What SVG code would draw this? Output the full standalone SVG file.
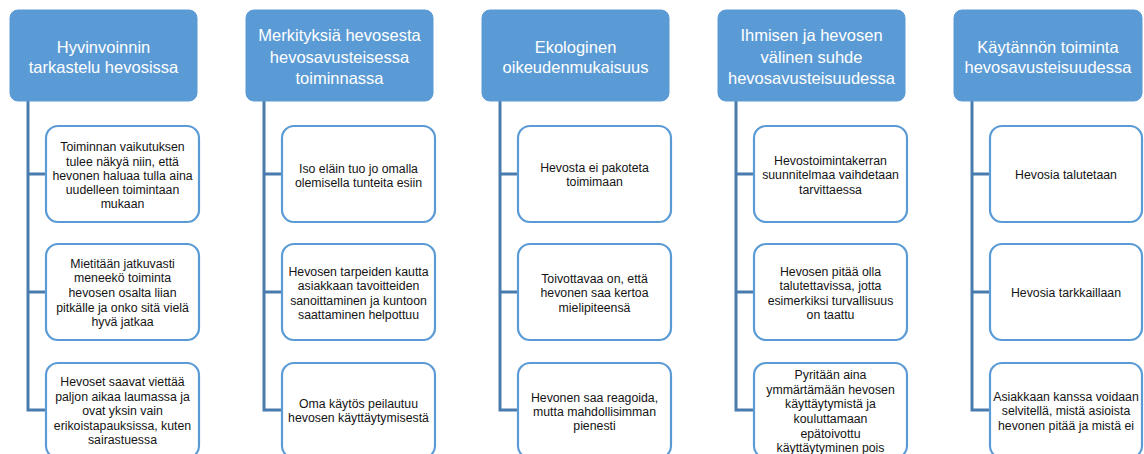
<svg xmlns="http://www.w3.org/2000/svg" width="1144" height="454" viewBox="0 0 1144 454">
<style>
.hdr{fill:#5B9BD5;stroke:#5B9BD5;stroke-width:1}
.chd{fill:#ffffff;stroke:#5B9BD5;stroke-width:2.2}
.ht{font-family:"Liberation Sans",Arial,sans-serif;font-size:16.5px;fill:#ffffff;text-anchor:middle}
.ct{font-family:"Liberation Sans",Arial,sans-serif;font-size:12.3px;fill:#141414;text-anchor:middle}
.con{fill:none;stroke:#4A7BAE;stroke-width:3}
</style>
<rect width="1144" height="454" fill="#ffffff"/>
<g id="connectors">
<path class="con" d="M28,101 V411.5 M28,174 H46 M28,292 H46 M28,410 H46"/>
<path class="con" d="M264,101 V411.5 M264,174 H282 M264,292 H282 M264,410 H282"/>
<path class="con" d="M500,101 V411.5 M500,174 H518 M500,292 H518 M500,410 H518"/>
<path class="con" d="M736,101 V411.5 M736,174 H754 M736,292 H754 M736,410 H754"/>
<path class="con" d="M972,101 V411.5 M972,174 H990 M972,292 H990 M972,410 H990"/>
</g>
<g id="h1">
<rect class="hdr" x="10" y="10" width="187" height="91" rx="8"/>
<text class="ht" x="103.5" y="52.5">Hyvinvoinnin</text>
<text class="ht" x="103.5" y="73">tarkastelu hevosissa</text>
</g>
<g id="h2">
<rect class="hdr" x="246" y="10" width="187" height="91" rx="8"/>
<text class="ht" x="339.5" y="41">Merkityksiä hevosesta</text>
<text class="ht" x="339.5" y="62.5">hevosavusteisessa</text>
<text class="ht" x="339.5" y="84">toiminnassa</text>
</g>
<g id="h3">
<rect class="hdr" x="482" y="10" width="187" height="91" rx="8"/>
<text class="ht" x="575.5" y="52.5">Ekologinen</text>
<text class="ht" x="575.5" y="73">oikeudenmukaisuus</text>
</g>
<g id="h4">
<rect class="hdr" x="718" y="10" width="187" height="91" rx="8"/>
<text class="ht" x="811.5" y="41">Ihmisen ja hevosen</text>
<text class="ht" x="811.5" y="62.5">välinen suhde</text>
<text class="ht" x="811.5" y="84">hevosavusteisuudessa</text>
</g>
<g id="h5">
<rect class="hdr" x="954" y="10" width="188" height="91" rx="8"/>
<text class="ht" x="1048" y="52.5">Käytännön toiminta</text>
<text class="ht" x="1048" y="73">hevosavusteisuudessa</text>
</g>
<g id="c1a">
<rect class="chd" x="46" y="126" width="153" height="96" rx="12"/>
<text class="ct" x="122.5" y="151.4">Toiminnan vaikutuksen</text>
<text class="ct" x="122.5" y="165.6">tulee näkyä niin, että</text>
<text class="ct" x="122.5" y="179.8">hevonen haluaa tulla aina</text>
<text class="ct" x="122.5" y="194">uudelleen toimintaan</text>
<text class="ct" x="122.5" y="208.2">mukaan</text>
</g>
<g id="c1b">
<rect class="chd" x="46" y="244" width="153" height="96" rx="12"/>
<text class="ct" x="122.5" y="267.5">Mietitään jatkuvasti</text>
<text class="ct" x="122.5" y="282.2">meneekö toiminta</text>
<text class="ct" x="122.5" y="296.9">hevosen osalta liian</text>
<text class="ct" x="122.5" y="311.6">pitkälle ja onko sitä vielä</text>
<text class="ct" x="122.5" y="326.3">hyvä jatkaa</text>
</g>
<g id="c1c">
<rect class="chd" x="46" y="363" width="153" height="95" rx="12"/>
<text class="ct" x="122.5" y="386.4">Hevoset saavat viettää</text>
<text class="ct" x="122.5" y="400.8">paljon aikaa laumassa ja</text>
<text class="ct" x="122.5" y="415.2">ovat yksin vain</text>
<text class="ct" x="122.5" y="429.6">erikoistapauksissa, kuten</text>
<text class="ct" x="122.5" y="444">sairastuessa</text>
</g>
<g id="c2a">
<rect class="chd" x="282" y="126" width="153" height="96" rx="12"/>
<text class="ct" x="358.5" y="172.5">Iso eläin tuo jo omalla</text>
<text class="ct" x="358.5" y="186.9">olemisella tunteita esiin</text>
</g>
<g id="c2b">
<rect class="chd" x="282" y="244" width="153" height="96" rx="12"/>
<text class="ct" x="358.5" y="276">Hevosen tarpeiden kautta</text>
<text class="ct" x="358.5" y="290.4">asiakkaan tavoitteiden</text>
<text class="ct" x="358.5" y="304.8">sanoittaminen ja kuntoon</text>
<text class="ct" x="358.5" y="319.2">saattaminen helpottuu</text>
</g>
<g id="c2c">
<rect class="chd" x="282" y="363" width="153" height="95" rx="12"/>
<text class="ct" x="358.5" y="408">Oma käytös peilautuu</text>
<text class="ct" x="358.5" y="422.4">hevosen käyttäytymisestä</text>
</g>
<g id="c3a">
<rect class="chd" x="518" y="126" width="153" height="96" rx="12"/>
<text class="ct" x="594.5" y="172">Hevosta ei pakoteta</text>
<text class="ct" x="594.5" y="186.4">toimimaan</text>
</g>
<g id="c3b">
<rect class="chd" x="518" y="244" width="153" height="96" rx="12"/>
<text class="ct" x="594.5" y="282.8">Toivottavaa on, että</text>
<text class="ct" x="594.5" y="297.2">hevonen saa kertoa</text>
<text class="ct" x="594.5" y="311.6">mielipiteensä</text>
</g>
<g id="c3c">
<rect class="chd" x="518" y="363" width="153" height="95" rx="12"/>
<text class="ct" x="594.5" y="401.5">Hevonen saa reagoida,</text>
<text class="ct" x="594.5" y="415.9">mutta mahdollisimman</text>
<text class="ct" x="594.5" y="430.3">pienesti</text>
</g>
<g id="c4a">
<rect class="chd" x="754" y="126" width="153" height="96" rx="12"/>
<text class="ct" x="830.5" y="164.8">Hevostoimintakerran</text>
<text class="ct" x="830.5" y="179.2">suunnitelmaa vaihdetaan</text>
<text class="ct" x="830.5" y="193.6">tarvittaessa</text>
</g>
<g id="c4b">
<rect class="chd" x="754" y="244" width="153" height="96" rx="12"/>
<text class="ct" x="830.5" y="276">Hevosen pitää olla</text>
<text class="ct" x="830.5" y="290.4">talutettavissa, jotta</text>
<text class="ct" x="830.5" y="304.8">esimerkiksi turvallisuus</text>
<text class="ct" x="830.5" y="319.2">on taattu</text>
</g>
<g id="c4c">
<rect class="chd" x="754" y="363" width="153" height="95" rx="12"/>
<text class="ct" x="830.5" y="379.2">Pyritään aina</text>
<text class="ct" x="830.5" y="393.8">ymmärtämään hevosen</text>
<text class="ct" x="830.5" y="408.4">käyttäytymistä ja</text>
<text class="ct" x="830.5" y="423">kouluttamaan</text>
<text class="ct" x="830.5" y="437.6">epätoivottu</text>
<text class="ct" x="830.5" y="452.2">käyttäytyminen pois</text>
</g>
<g id="c5a">
<rect class="chd" x="990" y="126" width="152" height="96" rx="12"/>
<text class="ct" x="1066" y="179">Hevosia talutetaan</text>
</g>
<g id="c5b">
<rect class="chd" x="990" y="244" width="152" height="96" rx="12"/>
<text class="ct" x="1066" y="297">Hevosia tarkkaillaan</text>
</g>
<g id="c5c">
<rect class="chd" x="990" y="363" width="152" height="95" rx="12"/>
<text class="ct" x="1066" y="400.5">Asiakkaan kanssa voidaan</text>
<text class="ct" x="1066" y="415.2">selvitellä, mistä asioista</text>
<text class="ct" x="1066" y="429.9">hevonen pitää ja mistä ei</text>
</g>
</svg>
